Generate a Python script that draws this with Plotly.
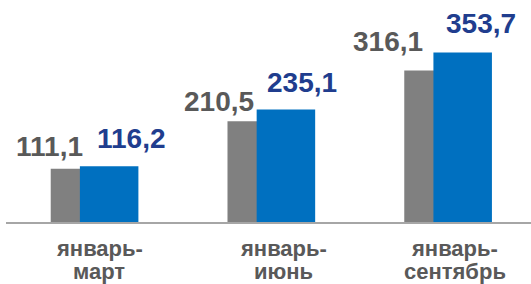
import plotly.graph_objects as go

categories = ["январь-март", "январь-июнь", "январь-сентябрь"]
label_line1 = ["январь-", "январь-", "январь-"]
label_line2 = ["март", "июнь", "сентябрь"]
prev_values = [111.1, 210.5, 316.1]
curr_values = [116.2, 235.1, 353.7]

def fmt(v):
    return f"{v:.1f}".replace(".", ",")

GRAY_BAR = "#808080"
BLUE_BAR = "#0070C0"
GRAY_TXT = "#595959"
BLUE_TXT = "#203D8E"
FONT = "Liberation Sans, Arial, sans-serif"

bar_w = 0.331
gray_off = -0.247
blue_off = -0.082

# label placement (pixel shifts from bar top / category centre)
gray_dx = [-45, -52, -60]
gray_dy = [22, 20, 29]
blue_dx = [37, 31, 33]
blue_dy = [28, 27, 29]
cat_dx = [5, 12, 7]

fig = go.Figure()
fig.add_trace(go.Bar(x=categories, y=prev_values, width=bar_w, offset=gray_off,
                     marker=dict(color=GRAY_BAR, line=dict(width=0)), hoverinfo="skip"))
fig.add_trace(go.Bar(x=categories, y=curr_values, width=bar_w, offset=blue_off,
                     marker=dict(color=BLUE_BAR, line=dict(width=0)), hoverinfo="skip"))

anns = []
for i, c in enumerate(categories):
    anns.append(dict(x=c, y=prev_values[i], text=fmt(prev_values[i]), showarrow=False,
                     xanchor="center", yanchor="middle", xshift=gray_dx[i], yshift=gray_dy[i],
                     font=dict(family=FONT, size=28, color=GRAY_TXT, weight="bold")))
    anns.append(dict(x=c, y=curr_values[i], text=fmt(curr_values[i]), showarrow=False,
                     xanchor="center", yanchor="middle", xshift=blue_dx[i], yshift=blue_dy[i],
                     font=dict(family=FONT, size=28, color=BLUE_TXT, weight="bold")))
    for txt, dy in ((label_line1[i], -26), (label_line2[i], -49)):
        anns.append(dict(x=c, y=0, yref="paper", text=txt, showarrow=False,
                         xanchor="center", yanchor="middle", xshift=cat_dx[i], yshift=dy,
                         font=dict(family=FONT, size=22, color=GRAY_TXT, weight="bold")))

fig.update_layout(
    template="none",
    width=531, height=284,
    margin=dict(l=6, r=0, t=0, b=62, pad=0),
    barmode="overlay",
    showlegend=False,
    plot_bgcolor="white", paper_bgcolor="white",
    annotations=anns,
    xaxis=dict(range=[-0.5, 2.47], showline=True, linecolor="#A6A6A6", linewidth=1.5,
               automargin=False, showgrid=False, zeroline=False, ticks="",
               showticklabels=False),
    yaxis=dict(range=[0, 463.5], visible=False, showgrid=False, zeroline=False,
               automargin=False),
)

fig.write_html("out.html", config={"displayModeBar": False},
               post_script="document.body.style.margin='0';document.body.style.overflow='hidden';")
